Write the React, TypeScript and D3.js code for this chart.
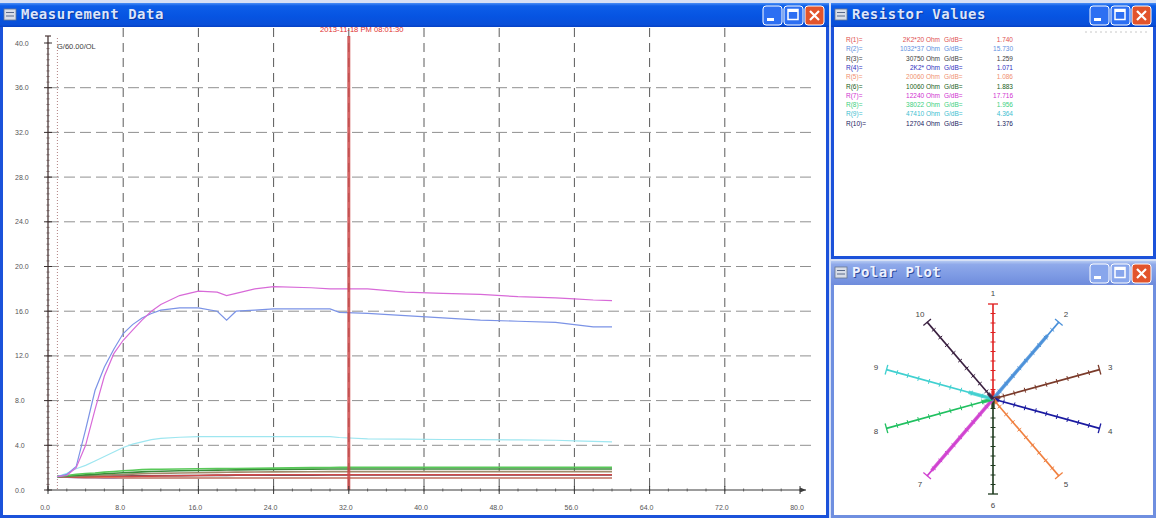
import React, { useEffect } from 'react';
import * as d3 from 'd3';

// sample times (x axis) shared by all channels
const times = [1, 2, 3, 4, 5, 6, 7, 8, 9, 10, 11, 12, 14, 16, 18, 19, 20, 22, 24, 28, 30, 31, 34, 38, 42, 46, 50, 54, 56, 58, 60];

const ch1 = [1.2, 1.18, 1.17, 1.17, 1.18, 1.19, 1.2, 1.21, 1.22, 1.23, 1.24, 1.25, 1.27, 1.3, 1.33, 1.34, 1.35, 1.35, 1.36, 1.36, 1.36, 1.36, 1.36, 1.36, 1.36, 1.36, 1.36, 1.36, 1.36, 1.36, 1.36];
const ch2 = [1.2, 1.4, 2.1, 5.4, 8.9, 11.0, 12.6, 14.0, 14.8, 15.4, 15.8, 16.1, 16.3, 16.3, 16.0, 15.2, 16.0, 16.1, 16.2, 16.2, 16.2, 15.9, 15.8, 15.6, 15.4, 15.2, 15.1, 15.0, 14.8, 14.6, 14.6];
const ch3 = [1.2, 1.22, 1.25, 1.28, 1.3, 1.33, 1.36, 1.39, 1.42, 1.45, 1.47, 1.49, 1.52, 1.55, 1.58, 1.59, 1.6, 1.61, 1.62, 1.63, 1.64, 1.64, 1.64, 1.64, 1.64, 1.64, 1.64, 1.64, 1.64, 1.64, 1.64];
const ch4 = [1.2, 1.15, 1.12, 1.1, 1.09, 1.08, 1.08, 1.07, 1.07, 1.07, 1.07, 1.07, 1.07, 1.07, 1.07, 1.07, 1.07, 1.07, 1.07, 1.07, 1.07, 1.07, 1.07, 1.07, 1.07, 1.07, 1.07, 1.07, 1.07, 1.07, 1.07];
const ch5 = [1.2, 1.16, 1.13, 1.11, 1.1, 1.09, 1.09, 1.08, 1.08, 1.08, 1.08, 1.08, 1.08, 1.08, 1.08, 1.08, 1.08, 1.08, 1.08, 1.08, 1.08, 1.08, 1.08, 1.08, 1.08, 1.08, 1.08, 1.08, 1.08, 1.08, 1.08];
const ch6 = [1.2, 1.25, 1.3, 1.35, 1.4, 1.45, 1.5, 1.55, 1.58, 1.62, 1.65, 1.68, 1.72, 1.75, 1.78, 1.79, 1.8, 1.82, 1.85, 1.87, 1.88, 1.88, 1.88, 1.88, 1.88, 1.88, 1.88, 1.88, 1.88, 1.88, 1.88];
const ch7 = [1.2, 1.3, 2.0, 4.0, 7.2, 10.2, 12.2, 13.4, 14.3, 15.2, 16.0, 16.6, 17.4, 17.8, 17.7, 17.4, 17.6, 18.0, 18.2, 18.1, 18.0, 18.0, 18.0, 17.7, 17.6, 17.5, 17.3, 17.2, 17.1, 17.0, 16.95];
const ch8 = [1.2, 1.3, 1.4, 1.47, 1.52, 1.6, 1.66, 1.72, 1.77, 1.82, 1.85, 1.86, 1.88, 1.9, 1.92, 1.92, 1.93, 1.94, 1.96, 2.0, 2.02, 2.03, 2.03, 2.03, 2.03, 2.03, 2.03, 2.03, 2.03, 2.03, 2.03];
const ch9 = [1.2, 1.5, 1.9, 2.2, 2.6, 3.0, 3.4, 3.8, 4.1, 4.3, 4.5, 4.62, 4.72, 4.77, 4.77, 4.77, 4.77, 4.77, 4.77, 4.77, 4.77, 4.7, 4.57, 4.55, 4.52, 4.5, 4.48, 4.45, 4.4, 4.35, 4.3];
const ch10 = [1.2, 1.2, 1.2, 1.21, 1.22, 1.23, 1.24, 1.25, 1.26, 1.27, 1.27, 1.28, 1.29, 1.3, 1.31, 1.31, 1.32, 1.32, 1.33, 1.33, 1.34, 1.34, 1.34, 1.35, 1.35, 1.35, 1.35, 1.35, 1.35, 1.35, 1.35];

const lineColors = ['#d04a4a', '#7b93e6', '#a08a6a', '#3c3cc0', '#f0a070', '#3a8a3a', '#d86ad8', '#58c858', '#9ee6f0', '#505060'];
const legendColors = ['#e05050', '#6090e0', '#404040', '#3030c0', '#f09070', '#206020', '#d030d0', '#40d080', '#40c0d0', '#202060'];
const spokeColors = ['#e02020', '#4a90d9', '#7a3a2a', '#1a1aa0', '#f08040', '#1e3a1e', '#d040d0', '#20c060', '#40d0d0', '#3a2040'];

const resistorLabels = ['2K2*20 Ohm', '1032*37 Ohm', '30750 Ohm', '2K2* Ohm', '20060 Ohm', '10060 Ohm', '12240 Ohm', '38022 Ohm', '47410 Ohm', '12704 Ohm'];
const gainValues = [1.74, 15.73, 1.259, 1.071, 1.086, 1.883, 17.716, 1.956, 4.364, 1.376];

const xTicks = [0, 8, 16, 24, 32, 40, 48, 56, 64, 72, 80];
const yTicks = [0, 4, 8, 12, 16, 20, 24, 28, 32, 36, 40];
const cursorTime = 32;
const startTime = 1;
const cursorLabel = '2013-11-18 PM 08:01:30';
const gainLabel = 'G/60.00/OL';
const polarMax = 19;

const seriesList = [ch1, ch2, ch3, ch4, ch5, ch6, ch7, ch8, ch9, ch10].map((values, i) => ({
  id: i + 1,
  values,
  color: lineColors[i],
}));
// draw low ones first, big ones on top
const drawOrder = [3, 4, 9, 0, 2, 5, 7, 8, 1, 6];

const x = d3.scaleLinear().domain([0, 80]).range([48, 800]);
const y = d3.scaleLinear().domain([0, 40]).range([490, 43]);

const XpWindow = ({ left, top, w, h, title, active }) => {
  const grad = active ? 'url(#tbActive)' : 'url(#tbInactive)';
  const bx = left + w - 24;
  return (
    <g>
      <rect x={left} y={top} width={w} height={h} fill={active ? '#1b52da' : '#6f8fe0'} />
      <rect x={left} y={top} width={w} height={24} fill={grad} />
      <rect x={left + 3} y={top + 24} width={w - 6} height={h - 27} fill="#ffffff" />
      {/* little app icon */}
      <rect x={left + 4} y={top + 6} width={12} height={11} fill="#d8dde8" stroke="#6a7890" strokeWidth={0.8} />
      <line x1={left + 6} x2={left + 14} y1={top + 9.5} y2={top + 9.5} stroke="#5a6a8a" />
      <line x1={left + 6} x2={left + 14} y1={top + 13} y2={top + 13} stroke="#5a6a8a" />
      <text x={left + 22} y={top + 17} fontFamily="DejaVu Sans Mono" fontWeight="bold" fontSize={14} letterSpacing={0.5} fill="#0a2a80" opacity={0.7}>
        {title}
      </text>
      <text x={left + 21} y={top + 16} fontFamily="DejaVu Sans Mono" fontWeight="bold" fontSize={14} letterSpacing={0.5} fill={active ? '#dce5fb' : '#eef2ff'}>
        {title}
      </text>
      {[0, 1, 2].map((k) => {
        const bxx = bx - (2 - k) * 21;
        const isClose = k === 2;
        return (
          <g key={k}>
            <rect x={bxx} y={top + 3} width={19} height={19} rx={3} fill={isClose ? '#e2542c' : active ? '#2d6ff2' : '#88a6ec'} stroke="#ffffff" strokeWidth={1} />
            {k === 0 && <rect x={bxx + 4} y={top + 15} width={7} height={3} fill="#ffffff" />}
            {k === 1 && <rect x={bxx + 4} y={top + 6.5} width={10} height={10} fill="none" stroke="#ffffff" strokeWidth={1.5} />}
            {k === 1 && <rect x={bxx + 4} y={top + 6.5} width={10} height={2.5} fill="#ffffff" />}
            {isClose && (
              <path d={`M${bxx + 5},${top + 8} L${bxx + 14},${top + 17} M${bxx + 14},${top + 8} L${bxx + 5},${top + 17}`} stroke="#ffffff" strokeWidth={2.2} />
            )}
          </g>
        );
      })}
    </g>
  );
};

const App = () => {
  useEffect(() => {
    document.body.style.margin = '0';
  }, []);

  const line = d3
    .line<number>()
    .x((_, i) => x(times[i]))
    .y((d) => y(d));

  const yMinor = d3.range(0, 40.01, 0.5);
  const xMinor = d3.range(0, 80.01, 2);

  // polar plot geometry
  const cx = 993;
  const cy = 399;
  const rx = 112;
  const ry = 95;
  const spokes = gainValues.map((v, i) => {
    const a = (i * 36 * Math.PI) / 180;
    const ex = cx + rx * Math.sin(a);
    const ey = cy - ry * Math.cos(a);
    const len = Math.hypot(ex - cx, ey - cy);
    const ux = (ex - cx) / len;
    const uy = (ey - cy) / len;
    return { id: i + 1, v, ex, ey, len, ux, uy, color: spokeColors[i] };
  });

  return (
    <svg width={1156} height={518} style={{ position: 'absolute', left: 0, top: 0, display: 'block' }}>
      <defs>
        <linearGradient id="tbActive" x1="0" y1="0" x2="0" y2="1">
          <stop offset="0%" stopColor="#4b8ef5" />
          <stop offset="12%" stopColor="#0d5ee8" />
          <stop offset="55%" stopColor="#0654e2" />
          <stop offset="90%" stopColor="#0a4fd8" />
          <stop offset="100%" stopColor="#0640c4" />
        </linearGradient>
        <linearGradient id="tbInactive" x1="0" y1="0" x2="0" y2="1">
          <stop offset="0%" stopColor="#b3c8f2" />
          <stop offset="15%" stopColor="#8fa9ea" />
          <stop offset="60%" stopColor="#7d9ae4" />
          <stop offset="100%" stopColor="#6f8cdc" />
        </linearGradient>
      </defs>
      <rect x={0} y={0} width={1156} height={518} fill="#d6e0f5" />

      <XpWindow left={0} top={3} w={829} h={515} title="Measurement Data" active />
      <XpWindow left={831} top={3} w={325} h={256} title="Resistor Values" active />
      <XpWindow left={831} top={261} w={325} h={257} title="Polar Plot" active={false} />

      {/* ---------- main chart ---------- */}
      <g>
        {yTicks.filter((t) => t > 0 && t < 40).map((t) => (
          <line key={'gy' + t} x1={x(0)} x2={815} y1={y(t)} y2={y(t)} stroke="#909090" strokeWidth={1} strokeDasharray="11,5" />
        ))}
        {xTicks.filter((t) => t > 0 && t < 80).map((t) => (
          <line key={'gx' + t} x1={x(t)} x2={x(t)} y1={28} y2={y(0)} stroke="#5a5a5a" strokeWidth={1} strokeDasharray="9,6" />
        ))}
        <line x1={x(startTime)} x2={x(startTime)} y1={38} y2={y(0)} stroke="#b08080" strokeWidth={1} strokeDasharray="1,2" />

        {drawOrder.map((i) => {
          const s = seriesList[i];
          return (
            <path key={'s' + s.id} d={line(s.values) || ''} fill="none" stroke={s.color} strokeWidth={s.values[20] < 2.5 ? 1.6 : 1.2} />
          );
        })}

        <line x1={x(cursorTime)} x2={x(cursorTime)} y1={36} y2={y(0)} stroke="#cc4848" strokeWidth={3} opacity={0.85} />
        <text x={x(cursorTime) + 13} y={32} textAnchor="middle" fontFamily="Liberation Sans" fontSize={7.6} fill="#e03030">
          {cursorLabel}
        </text>
        <text x={57} y={49} fontFamily="Liberation Sans" fontSize={7.5} fill="#404040">
          {gainLabel}
        </text>

        {/* y axis */}
        <line x1={x(0)} x2={x(0)} y1={36} y2={y(0)} stroke="#4a3838" strokeWidth={1.3} />
        <line x1={x(0) - 3} x2={x(0) + 3} y1={36} y2={36} stroke="#4a3838" strokeWidth={1.2} />
        {yMinor.map((t) => (
          <line key={'ym' + t} x1={x(0) - 1.5} x2={x(0) + 1.5} y1={y(t)} y2={y(t)} stroke="#6a5050" strokeWidth={0.8} />
        ))}
        {yTicks.map((t) => (
          <g key={'yt' + t}>
            <line x1={x(0) - 4} x2={x(0) + 4} y1={y(t)} y2={y(t)} stroke="#3a3030" strokeWidth={1} />
            <text x={15} y={y(t) + 2.5} fontFamily="Liberation Sans" fontSize={7} fill="#555">
              {t.toFixed(1)}
            </text>
          </g>
        ))}

        {/* x axis */}
        <line x1={x(0)} x2={806} y1={y(0)} y2={y(0)} stroke="#3a3a3a" strokeWidth={1.2} />
        <path d={`M800,${y(0) - 2.5} L806,${y(0)} L800,${y(0) + 2.5} Z`} fill="#3a3a3a" />
        {xMinor.map((t) => (
          <line key={'xm' + t} x1={x(t)} x2={x(t)} y1={y(0) - 1.5} y2={y(0) + 1.5} stroke="#4a4a4a" strokeWidth={0.8} />
        ))}
        {xTicks.map((t) => (
          <g key={'xt' + t}>
            <line x1={x(t)} x2={x(t)} y1={y(0) - 4} y2={y(0) + 4} stroke="#3a3a3a" strokeWidth={1} />
            <text x={x(t) - 3} y={510} textAnchor="middle" fontFamily="Liberation Sans" fontSize={7} fill="#555">
              {t.toFixed(1)}
            </text>
          </g>
        ))}
      </g>

      {/* ---------- resistor values ---------- */}
      <g fontFamily="Liberation Sans" fontSize={6.5}>
        <line x1={1085} x2={1150} y1={32} y2={32} stroke="#c8c8c8" strokeDasharray="2,3" />
        {resistorLabels.map((r, i) => {
          const ty = 42 + i * 9.3;
          return (
            <g key={'r' + i} fill={legendColors[i]}>
              <text x={846} y={ty}>{`R(${i + 1})=`}</text>
              <text x={940} y={ty} textAnchor="end">{r}</text>
              <text x={944} y={ty}>G/dB=</text>
              <text x={1013} y={ty} textAnchor="end">{gainValues[i].toFixed(3)}</text>
            </g>
          );
        })}
      </g>

      {/* ---------- polar plot ---------- */}
      <g>
        {spokes.map((s) => {
          const px = -s.uy;
          const py = s.ux;
          const thick = Math.min(s.v / polarMax, 1) * s.len;
          return (
            <g key={'p' + s.id}>
              <line x1={cx} y1={cy} x2={s.ex} y2={s.ey} stroke={s.color} strokeWidth={1.6} />
              <line x1={cx} y1={cy} x2={cx + s.ux * thick} y2={cy + s.uy * thick} stroke={s.color} strokeWidth={3.5} opacity={0.85} />
              {d3.range(1, 10).map((k) => {
                const tx = cx + s.ux * (s.len * k) / 10;
                const ty = cy + s.uy * (s.len * k) / 10;
                return <line key={k} x1={tx - px * 2.5} y1={ty - py * 2.5} x2={tx + px * 2.5} y2={ty + py * 2.5} stroke={s.color} strokeWidth={1} />;
              })}
              <line x1={s.ex - px * 5} y1={s.ey - py * 5} x2={s.ex + px * 5} y2={s.ey + py * 5} stroke={s.color} strokeWidth={1.3} />
              <text x={s.ex + s.ux * 11} y={s.ey + s.uy * 11 + 3} textAnchor="middle" fontFamily="Liberation Sans" fontSize={8} fill="#444">
                {s.id}
              </text>
            </g>
          );
        })}
      </g>
    </svg>
  );
};

export default App;
